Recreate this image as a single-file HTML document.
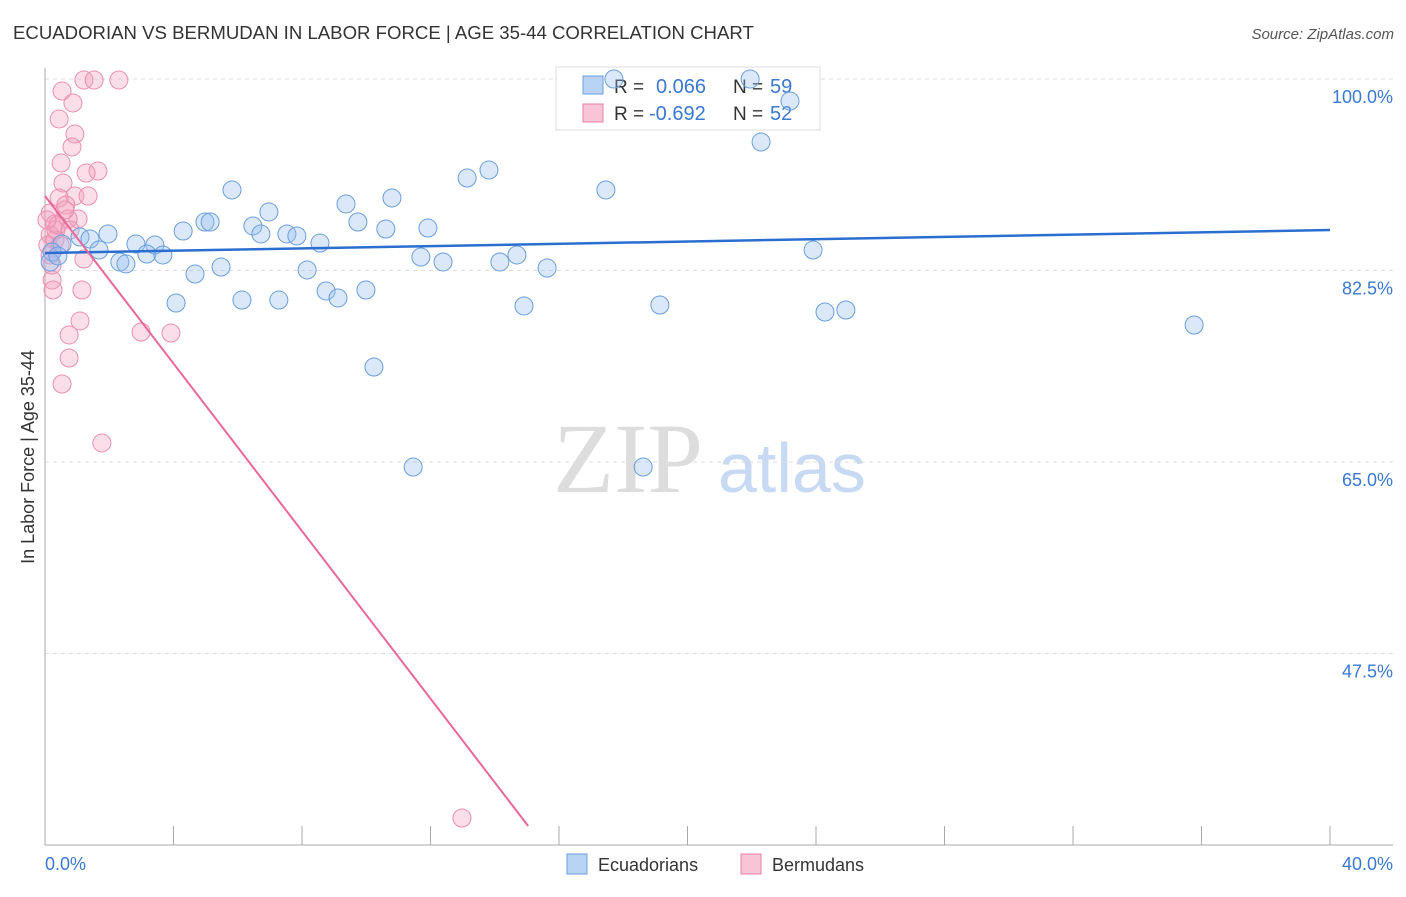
<!DOCTYPE html>
<html><head><meta charset="utf-8"><style>
body{margin:0;background:#fff;font-family:"Liberation Sans",sans-serif;}
</style></head><body>
<svg id="c" width="1406" height="892" font-family="Liberation Sans, sans-serif">
<text x="13" y="39" font-size="18.6" fill="#333">ECUADORIAN VS BERMUDAN IN LABOR FORCE | AGE 35-44 CORRELATION CHART</text>
<text x="1394" y="39" font-size="15" fill="#555" font-style="italic" text-anchor="end">Source: ZipAtlas.com</text>
<text x="34" y="457" font-size="18" fill="#333" text-anchor="middle" transform="rotate(-90 34 457)">In Labor Force | Age 35-44</text>
<text x="553" y="492" font-size="100" fill="#ddd" style="font-family:'Liberation Serif',serif">ZIP</text>
<text x="718" y="492" font-size="70" fill="#c8daf3">atlas</text>
<g id="grid"></g>
<g>
<rect x="556" y="67" width="264" height="63" fill="#fff" stroke="#ddd"/>
<rect x="583" y="76" width="20" height="18" fill="#b9d3f5" stroke="#6a9ee0"/>
<text x="614" y="93" font-size="19" fill="#333">R =</text><text x="656" y="93" font-size="20" fill="#3a78d4">0.066</text>
<text x="733" y="93" font-size="19" fill="#333">N =</text><text x="770" y="93" font-size="20" fill="#3a78d4">59</text>
<rect x="583" y="104" width="20" height="18" fill="#f8c4d6" stroke="#e87fa3"/>
<text x="614" y="120" font-size="19" fill="#333">R =</text><text x="649" y="120" font-size="20" fill="#3a78d4">-0.692</text>
<text x="733" y="120" font-size="19" fill="#333">N =</text><text x="770" y="120" font-size="20" fill="#3a78d4">52</text>
</g>
<g id="marks"></g><g id="lines"></g>
<g>
<rect x="567" y="854" width="20" height="20" fill="#b9d3f5" stroke="#6a9ee0"/>
<text x="598" y="871" font-size="18" fill="#333">Ecuadorians</text>
<rect x="741" y="854" width="20" height="20" fill="#f8c4d6" stroke="#e87fa3"/>
<text x="772" y="871" font-size="18" fill="#333">Bermudans</text>
</g>
</svg>
<script>
const blueX=[17.71,21.95,23.19,22.29,13.14,13.82,17.46,5.82,10.80,9.37,6.97,9.74,4.98,5.14,6.47,4.30,10.61,11.92,1.96,6.72,7.53,7.84,1.09,1.40,0.53,8.56,2.83,3.42,1.68,3.17,3.67,2.33,2.52,23.91,11.70,14.69,12.39,14.16,15.63,5.48,4.67,8.16,9.99,8.75,9.12,6.13,7.28,4.08,14.91,19.14,24.28,24.93,35.77,10.24,11.46,18.62,0.22,0.16,0.40];
const blueY=[100,100,97.99,94.24,90.95,91.68,89.86,89.86,89.13,88.58,87.85,86.93,86.93,86.93,86.57,86.11,86.29,86.38,85.84,85.84,85.84,85.65,85.56,85.38,84.92,85.01,84.92,84.83,84.37,84.01,83.92,83.28,83.10,84.37,83.73,83.92,83.28,83.28,82.73,82.82,82.18,82.55,80.72,80.63,79.99,79.80,79.80,79.53,79.26,79.35,78.71,78.89,77.52,73.68,64.54,64.54,84.19,83.28,83.83];
const pinkX=[1.21,1.53,2.30,0.53,0.87,0.44,0.93,0.84,0.50,1.65,1.28,0.56,0.93,0.44,1.34,0.65,0.16,1.03,0.72,0.31,0.16,0.09,0.31,0.16,1.21,0.22,0.25,1.15,1.09,0.75,2.99,3.92,0.75,0.53,1.77,12.98,0.34,0.47,0.62,0.40,0.78,0.06,0.22];
const pinkY=[99.91,99.91,99.91,98.90,97.81,96.34,94.97,93.79,92.32,91.59,91.41,90.50,89.31,89.13,89.31,88.49,87.76,87.21,87.21,86.75,85.74,84.83,85.29,83.92,83.55,81.63,80.72,80.72,77.89,76.61,76.88,76.79,74.50,72.13,66.74,32.47,86.20,84.83,88.03,86.66,86.20,87.12,83.00];
const blueTrend=[84.10,86.20];
const pinkTrend=[89.31,31.74];
const pinkTrendEnd=15.04;
const yTicks=[100,82.5,65,47.5];
const yTickLabels=["100.0%","82.5%","65.0%","47.5%"];
const xTickLabels=["0.0%","40.0%"];
const NS="http://www.w3.org/2000/svg";
const sx=v=>45+v/40*1285, sy=v=>79+(100-v)/17.5*191.5;
function mk(t,a,p){const e=document.createElementNS(NS,t);for(const k in a)e.setAttribute(k,a[k]);document.getElementById(p).appendChild(e);return e;}
yTicks.forEach((v,i)=>{
 const l=mk('line',{x1:45,x2:1393,y1:sy(v),y2:sy(v),stroke:'#ddd','stroke-dasharray':'4,4'},'grid');
 
 
 const t=mk('text',{x:1393,y:sy(v)+24,'font-size':18,fill:'#3a78d4','text-anchor':'end'},'grid');
 t.textContent=yTickLabels[i];
 
 
});
const ax=mk('line',{x1:45,x2:45,y1:68,y2:845,stroke:'#aaa'},'grid');


const bx=mk('line',{x1:45,x2:1393,y1:845,y2:845,stroke:'#aaa'},'grid');


for(let i=0;i<=10;i++){const tk=mk('line',{x1:sx(i*4),x2:sx(i*4),y1:826,y2:845,stroke:'#aaa'},'grid');
 
 }
[[0,'start',45],[40,'end',1393]].forEach((d,i)=>{const t=mk('text',{x:d[2],y:870,'font-size':18,fill:'#3a78d4','text-anchor':d[1]},'grid');t.textContent=xTickLabels[i];
 
 });
pinkX.forEach((x,i)=>{const c=mk('circle',{cx:sx(x),cy:sy(pinkY[i]),r:9,fill:'rgba(244,160,190,0.35)',stroke:'#ec8fb0','stroke-width':1},'marks');
 
 });
blueX.forEach((x,i)=>{const c=mk('circle',{cx:sx(x),cy:sy(blueY[i]),r:9,fill:'rgba(150,190,240,0.35)',stroke:'#6a9ee0','stroke-width':1},'marks');
 
 });
const bl=mk('line',{x1:sx(0),y1:sy(blueTrend[0]),x2:sx(40),y2:sy(blueTrend[1]),stroke:'#2a6fd0','stroke-width':2.5},'lines');


const pl=mk('line',{x1:sx(0),y1:sy(pinkTrend[0]),x2:sx(pinkTrendEnd),y2:sy(pinkTrend[1]),stroke:'#e8689a','stroke-width':2},'lines');


</script>
</body></html>
